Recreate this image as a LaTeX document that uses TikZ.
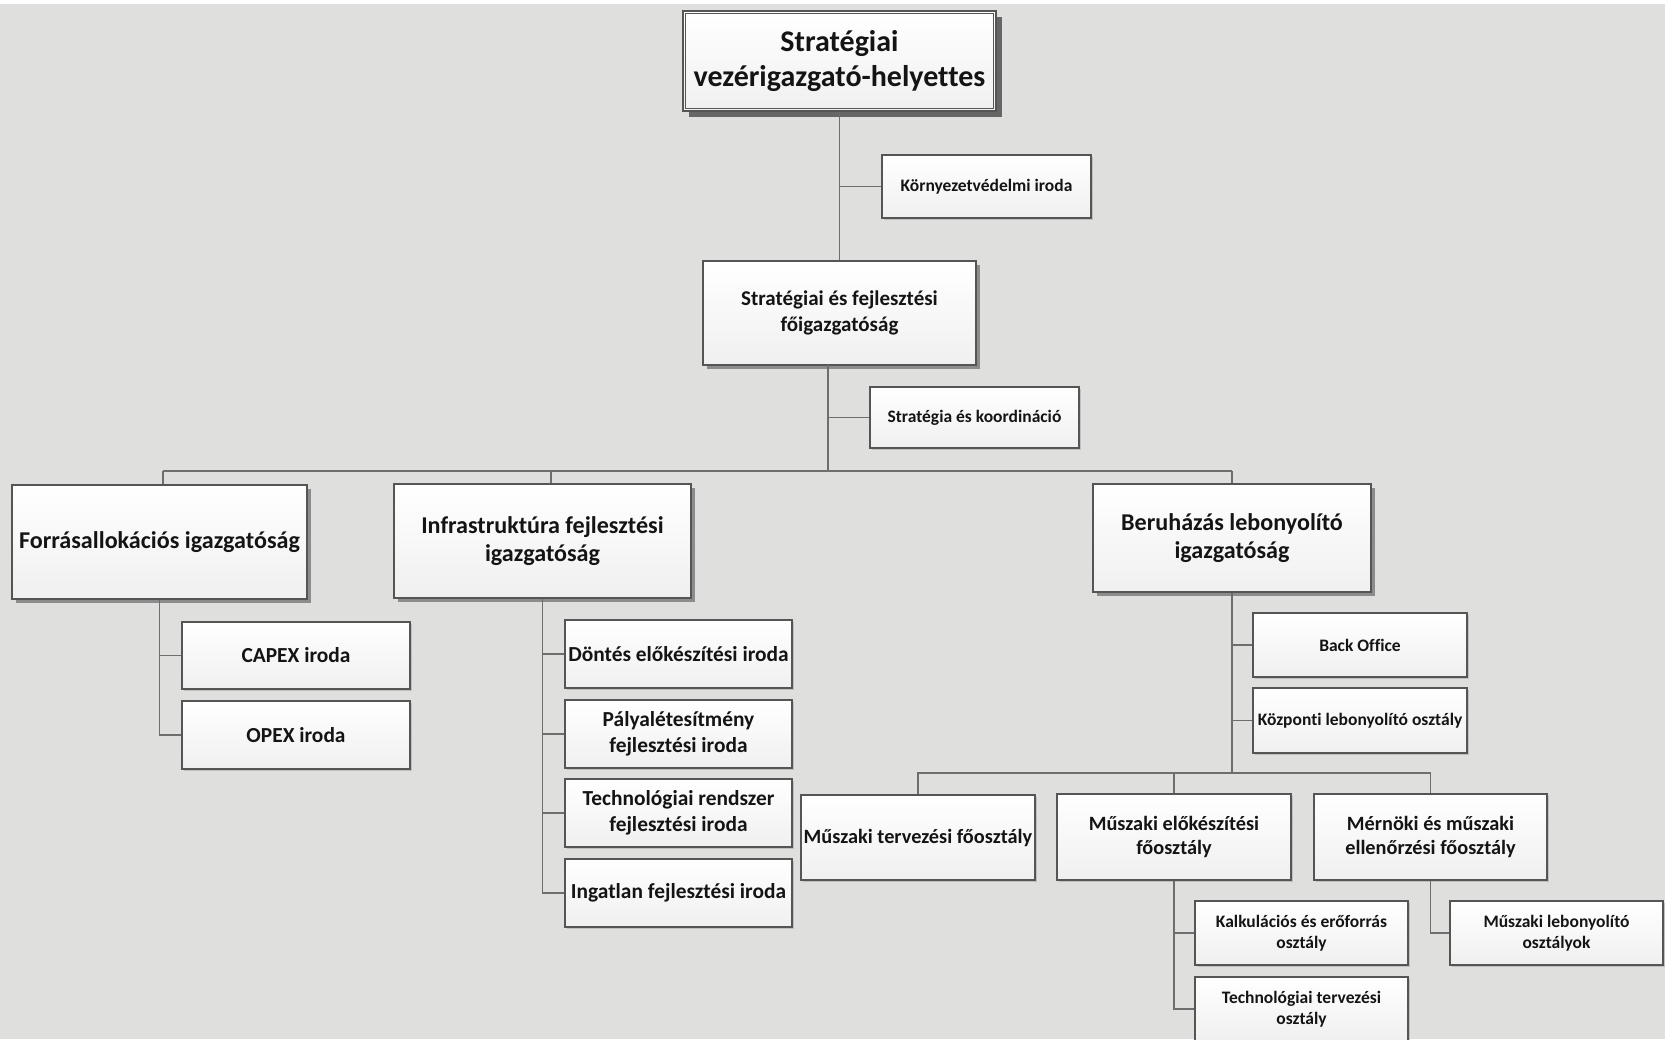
\documentclass[tikz,border=0pt]{standalone}
\usepackage{fontspec}
\setmainfont{Carlito}[Ligatures=NoCommon]
\usetikzlibrary{shadows}
\definecolor{bg}{HTML}{DFDFDD}
\definecolor{bline}{HTML}{555555}
\definecolor{cline}{HTML}{6E6E6E}
\definecolor{txt}{HTML}{141414}
\tikzset{
  box/.style={draw=bline, line width=1.3pt, top color=white, bottom color=black!6,
    text=txt, align=center, inner sep=2pt},
  bigsh/.style={drop shadow={shadow xshift=6pt, shadow yshift=-6pt, fill=black!60, opacity=1}},
  sh/.style={drop shadow={shadow xshift=3.5pt, shadow yshift=-3.5pt, fill=black!45, opacity=1}},
  lsh/.style={drop shadow={shadow xshift=1.5pt, shadow yshift=-1.5pt, fill=black!25, opacity=1}},
  conn/.style={draw=cline, line width=1.5pt},
  fxl/.style={font=\bfseries\fontsize{30}{35.4}\selectfont},
  fl/.style={font=\bfseries\fontsize{24.1}{28.7}\selectfont},
  fm/.style={font=\bfseries\fontsize{21}{25.6}\selectfont},
  fi/.style={font=\bfseries\fontsize{21.4}{25.6}\selectfont},
  fd/.style={font=\bfseries\fontsize{20.3}{24.6}\selectfont},
  fs/.style={font=\bfseries\fontsize{17.5}{21}\selectfont},
}
\begin{document}
\begin{tikzpicture}[x=1pt,y=-1pt]
\useasboundingbox (0,0) rectangle (1665,1039);
\clip (0,0) rectangle (1665,1039);
\fill[white] (0,0) rectangle (1665,1039);
\fill[bg] (0,4) rectangle (1665,1039);

% nodes
\node[box,bigsh,fxl,minimum width=313,minimum height=100] (top) at (839.5,61) {Stratégiai\\vezérigazgató-helyettes};
\draw[bline,line width=1.1pt] ([shift={(3,3)}]top.north west) rectangle ([shift={(-3,-3)}]top.south east);
\node[box,lsh,fs,minimum width=209,minimum height=63] (korny) at (986.5,186.5) {Környezetvédelmi iroda};
\node[box,sh,fm,minimum width=273,minimum height=104] (fo) at (839.5,313) {Stratégiai és fejlesztési\\főigazgatóság};
\node[box,lsh,fs,minimum width=209,minimum height=61] (strat) at (974.5,417.5) {Stratégia és koordináció};

\node[box,sh,fl,minimum width=295,minimum height=114] (forras) at (159.5,542) {Forrásallokációs igazgatóság};
\node[box,sh,fl,minimum width=297,minimum height=114] (infra) at (542.5,541) {Infrastruktúra fejlesztési\\igazgatóság};
\node[box,sh,fl,minimum width=278,minimum height=108] (beru) at (1232,538) {Beruházás lebonyolító\\igazgatóság};

\node[box,lsh,fi,minimum width=228,minimum height=67] (capex) at (296,655.5) {CAPEX iroda};
\node[box,lsh,fi,minimum width=228,minimum height=68] (opex) at (296,735) {OPEX iroda};

\node[box,lsh,fi,minimum width=227,minimum height=68] (dontes) at (678.5,654) {Döntés előkészítési iroda};
\node[box,lsh,fi,minimum width=227,minimum height=68] (palya) at (678.5,734) {Pályalétesítmény\\fejlesztési iroda};
\node[box,lsh,fi,minimum width=227,minimum height=68] (techno) at (678.5,813) {Technológiai rendszer\\fejlesztési iroda};
\node[box,lsh,fi,minimum width=227,minimum height=68] (ingatlan) at (678.5,893) {Ingatlan fejlesztési iroda};

\node[box,lsh,fs,minimum width=214,minimum height=64] (back) at (1360,645) {Back Office};
\node[box,lsh,fs,minimum width=214,minimum height=65] (kozp) at (1360,720.5) {Központi lebonyolító osztály};

\node[box,lsh,fd,minimum width=234,minimum height=85] (mtf) at (918,837.5) {Műszaki tervezési főosztály};
\node[box,lsh,fd,minimum width=234,minimum height=86] (mef) at (1174,837) {Műszaki előkészítési\\főosztály};
\node[box,lsh,fd,minimum width=233,minimum height=86] (mer) at (1430.5,837) {Mérnöki és műszaki\\ellenőrzési főosztály};

\node[box,lsh,fs,minimum width=213,minimum height=64] (kalk) at (1301.5,933) {Kalkulációs és erőforrás\\osztály};
\node[box,lsh,fs,minimum width=213,minimum height=64] (tech2) at (1301.5,1009) {Technológiai tervezési\\osztály};
\node[box,lsh,fs,minimum width=213,minimum height=64] (lebo) at (1556.5,933) {Műszaki lebonyolító\\osztályok};

% coordinates
\coordinate (fb) at (828,365);
\coordinate (busL) at (163,471);
\coordinate (busM) at (828,471);
\coordinate (busI) at (551,471);
\coordinate (busR) at (1232,471);
\coordinate (b2) at (1232,773);

% connectors
\begin{scope}[conn]
\draw (top.south) -- (fo.north);
\draw (top.south |- korny.west) -- (korny.west);
\draw (fb) -- (busM);
\draw (fb |- strat.west) -- (strat.west);
\draw (busL) -- (busR);
\draw (busL) -- (busL |- forras.north);
\draw (busI) -- (busI |- infra.north);
\draw (busR) -- (beru.north);
\draw (forras.south) |- (capex.west);
\draw (forras.south) |- (opex.west);
\draw (infra.south) |- (dontes.west);
\draw (infra.south) |- (palya.west);
\draw (infra.south) |- (techno.west);
\draw (infra.south) |- (ingatlan.west);
\draw (beru.south) |- (back.west);
\draw (beru.south) |- (kozp.west);
\draw (beru.south) -- (b2);
\draw (mtf.north) |- (b2);
\draw (mer.north) |- (b2);
\draw (mef.north) -- (mef.north |- b2);
\draw (mef.south) |- (kalk.west);
\draw (mef.south) |- (tech2.west);
\draw (mer.south) |- (lebo.west);
\end{scope}
\end{tikzpicture}
\end{document}
